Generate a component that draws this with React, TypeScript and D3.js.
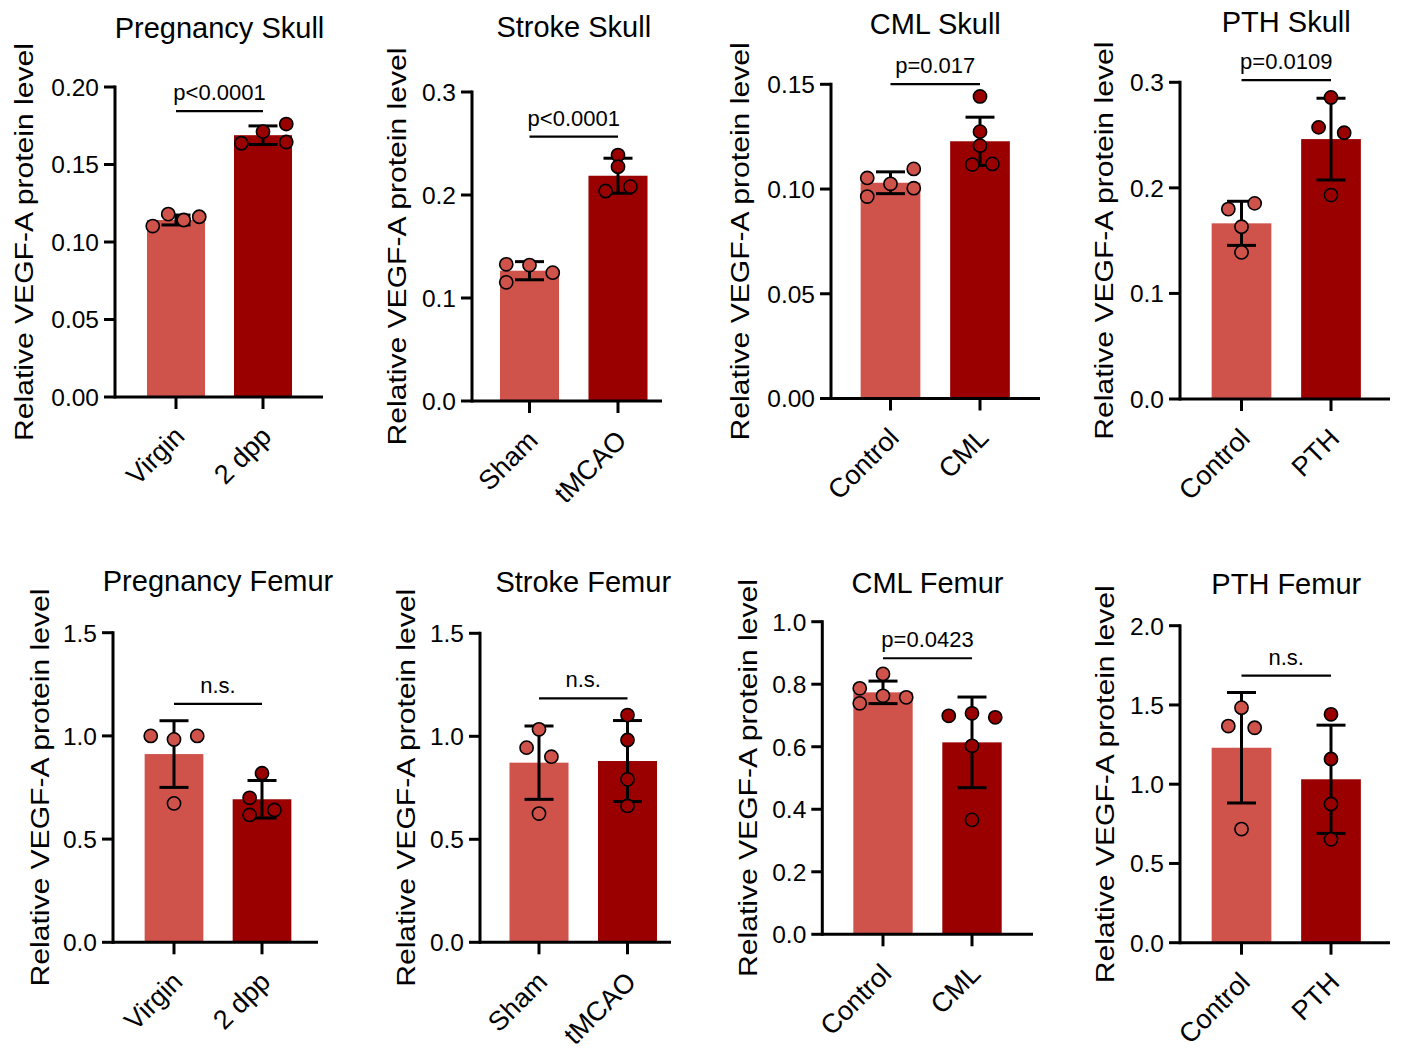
import React from "react";
import * as d3 from "d3";

// ---------------- data ----------------
const titles = [
  "Pregnancy Skull", "Stroke Skull", "CML Skull", "PTH Skull",
  "Pregnancy Femur", "Stroke Femur", "CML Femur", "PTH Femur",
];
const groupNames = [
  ["Virgin", "2 dpp"], ["Sham", "tMCAO"], ["Control", "CML"], ["Control", "PTH"],
  ["Virgin", "2 dpp"], ["Sham", "tMCAO"], ["Control", "CML"], ["Control", "PTH"],
];
const means = [
  [0.1142, 0.1689], [0.1265, 0.2187], [0.1030, 0.1228], [0.1664, 0.2462],
  [0.912, 0.693], [0.872, 0.880], [0.774, 0.614], [1.230, 1.031],
];
const sds = [
  [0.0032, 0.0060], [0.0088, 0.0170], [0.0052, 0.0115], [0.0209, 0.0387],
  [0.1615, 0.091], [0.178, 0.1965], [0.036, 0.145], [0.3485, 0.3415],
];
const points = [
  [[0.1103, 0.1180, 0.1142, 0.1163], [0.1637, 0.1712, 0.1761, 0.1645]],
  [[0.1327, 0.1152, 0.1320, 0.1246], [0.2388, 0.2275, 0.2039, 0.2081]],
  [[0.1053, 0.0964, 0.1025, 0.1096, 0.1004], [0.1442, 0.1274, 0.1207, 0.1117, 0.1120]],
  [[0.1799, 0.1853, 0.1632, 0.1389], [0.2857, 0.2573, 0.2522, 0.1932]],
  [[1.0, 0.983, 1.0, 0.673], [0.819, 0.70, 0.641, 0.617]],
  [[1.034, 0.945, 0.901, 0.625], [1.103, 0.982, 0.791, 0.662]],
  [[0.833, 0.787, 0.739, 0.763, 0.758], [0.699, 0.707, 0.694, 0.603, 0.366]],
  [[1.483, 1.367, 1.356, 0.717], [1.441, 1.159, 0.875, 0.652]],
];
// scatter column slot of each point (beeswarm arrangement)
const slots = [
  [[-1.5, -0.5, 0.5, 1.5], [-1.4, 0, 1.5, 1.5]],
  [[-1.5, -1.5, 0, 1.5], [0, 0, -0.8, 0.8]],
  [[-1.5, -1.5, 0, 1.5, 1.5], [0, 0, 0, -0.5, 0.8]],
  [[-0.85, 0.85, 0, 0], [0, -0.8, 0.85, 0]],
  [[-1.5, 0, 1.5, 0], [0, -0.8, 0.8, -0.8]],
  [[0, -0.8, 0.8, 0], [0, 0, 0, 0]],
  [[0, -1.5, -1.5, 0, 1.5], [-1.5, 0, 1.5, 0, 0]],
  [[0, -0.85, 0.85, 0], [0, 0, 0, 0]],
];
const pLabels = ["p<0.0001", "p<0.0001", "p=0.017", "p=0.0109", "n.s.", "n.s.", "p=0.0423", "n.s."];
const bracketLevels = [0.1845, 0.2566, 0.1501, 0.302, 1.155, 1.184, 0.883, 1.685];
const yMax = [0.2, 0.3, 0.15, 0.3, 1.5, 1.5, 1.0, 2.0];
const yTickStep = [0.05, 0.1, 0.05, 0.1, 0.5, 0.5, 0.2, 0.5];
const yTickDecimals = [2, 1, 2, 1, 1, 1, 1, 1];
const yLabel = "Relative VEGF-A protein level";

// ---------------- layout ----------------
const frames = [
  { axisX: 115, y0: 397, yTop: 87, c1: 176, c2: 263, xEnd: 323, titleY: 38, labelX: 33 },
  { axisX: 472, y0: 401, yTop: 92, c1: 529.5, c2: 618, xEnd: 662, titleY: 37, labelX: 406 },
  { axisX: 831, y0: 398.5, yTop: 84.3, c1: 890.5, c2: 980, xEnd: 1040, titleY: 34, labelX: 749 },
  { axisX: 1180, y0: 399, yTop: 82.3, c1: 1241.5, c2: 1331, xEnd: 1390, titleY: 32, labelX: 1113 },
  { axisX: 113, y0: 942.3, yTop: 632.7, c1: 174, c2: 262, xEnd: 318, titleY: 591, labelX: 49 },
  { axisX: 480, y0: 942.3, yTop: 633.3, c1: 539, c2: 627.5, xEnd: 671, titleY: 592, labelX: 415 },
  { axisX: 822.3, y0: 934.3, yTop: 621.7, c1: 883, c2: 972, xEnd: 1033, titleY: 593, labelX: 757 },
  { axisX: 1180, y0: 942.7, yTop: 625.7, c1: 1241.5, c2: 1331, xEnd: 1390, titleY: 594, labelX: 1114 },
];
const colors = ["#CF524B", "#9A0000"];
const FONT = "'Liberation Sans', Arial, Helvetica, sans-serif";
const SLOT_PX = 15.5;

function Panel({ i }: { i: number }) {
  const f = frames[i];
  const groups = groupNames[i];
  const step = f.c2 - f.c1;
  const x = d3
    .scaleBand<string>()
    .domain(groups)
    .range([f.c1 - step / 2, f.c2 + step / 2])
    .paddingInner(0.333)
    .paddingOuter(0.1665);
  const y = d3.scaleLinear().domain([0, yMax[i]]).range([f.y0, f.yTop]);
  const ticks = d3.range(0, yMax[i] + yTickStep[i] / 2, yTickStep[i]);
  const fmt = d3.format(`.${yTickDecimals[i]}f`);
  const bw = x.bandwidth();
  const cx = (g: string) => (x(g) as number) + bw / 2;
  const capHalf = 14.5;
  const bY = y(bracketLevels[i]);
  const midX = (cx(groups[0]) + cx(groups[1])) / 2;

  return (
    <g>
      <text x={midX} y={f.titleY} textAnchor="middle" fontSize={29} fontFamily={FONT} fill="#000">
        {titles[i]}
      </text>
      <text
        transform={`translate(${f.labelX},${(f.y0 + f.yTop) / 2}) rotate(-90)`}
        textAnchor="middle"
        fontSize={26}
        fontFamily={FONT}
        textLength={398}
        lengthAdjust="spacingAndGlyphs"
        fill="#000"
      >
        {yLabel}
      </text>
      {/* bars */}
      {groups.map((g, k) => (
        <rect
          key={"b" + k}
          x={x(g)}
          y={y(means[i][k])}
          width={bw}
          height={f.y0 - y(means[i][k])}
          fill={colors[k]}
        />
      ))}
      {/* error bars */}
      {groups.map((g, k) => {
        const c = cx(g);
        const hi = y(means[i][k] + sds[i][k]);
        const lo = y(means[i][k] - sds[i][k]);
        return (
          <g key={"e" + k} stroke="#000" strokeWidth={3}>
            <line x1={c} x2={c} y1={hi} y2={lo} />
            <line x1={c - capHalf} x2={c + capHalf} y1={hi} y2={hi} />
            <line x1={c - capHalf} x2={c + capHalf} y1={lo} y2={lo} />
          </g>
        );
      })}
      {/* points */}
      {groups.map((g, k) =>
        points[i][k].map((v, j) => (
          <circle
            key={"p" + k + "-" + j}
            cx={cx(g) + slots[i][k][j] * SLOT_PX}
            cy={y(v)}
            r={6.6}
            fill={colors[k]}
            stroke="#000"
            strokeWidth={1.6}
          />
        ))
      )}
      {/* axes */}
      <line x1={f.axisX} x2={f.axisX} y1={f.yTop - 1.5} y2={f.y0 + 1.5} stroke="#000" strokeWidth={3} />
      <line x1={f.axisX} x2={f.xEnd} y1={f.y0} y2={f.y0} stroke="#000" strokeWidth={3} />
      {ticks.map((t, k) => (
        <g key={"t" + k}>
          <line x1={f.axisX - 11} x2={f.axisX} y1={y(t)} y2={y(t)} stroke="#000" strokeWidth={3} />
          <text
            x={f.axisX - 16}
            y={y(t)}
            dy="0.36em"
            textAnchor="end"
            fontSize={24.5}
            fontFamily={FONT}
            fill="#000"
          >
            {fmt(t)}
          </text>
        </g>
      ))}
      {groups.map((g, k) => (
        <g key={"x" + k}>
          <line x1={cx(g)} x2={cx(g)} y1={f.y0} y2={f.y0 + 12} stroke="#000" strokeWidth={3} />
          <text
            transform={`translate(${cx(g) + 10},${f.y0 + 41}) rotate(-45)`}
            textAnchor="end"
            fontSize={27}
            fontFamily={FONT}
            fill="#000"
          >
            {g}
          </text>
        </g>
      ))}
      {/* significance bracket */}
      <line x1={cx(groups[0])} x2={cx(groups[1])} y1={bY} y2={bY} stroke="#000" strokeWidth={2.2} />
      <text x={midX} y={bY - 11} textAnchor="middle" fontSize={22} fontFamily={FONT} fill="#000">
        {pLabels[i]}
      </text>
    </g>
  );
}

export default function App() {
  return (
    <svg
      width={1401}
      height={1052}
      style={{ position: "absolute", left: 0, top: 0, background: "#fff" }}
    >
      <rect width={1401} height={1052} fill="#fff" />
      {titles.map((_, i) => (
        <Panel key={i} i={i} />
      ))}
    </svg>
  );
}
